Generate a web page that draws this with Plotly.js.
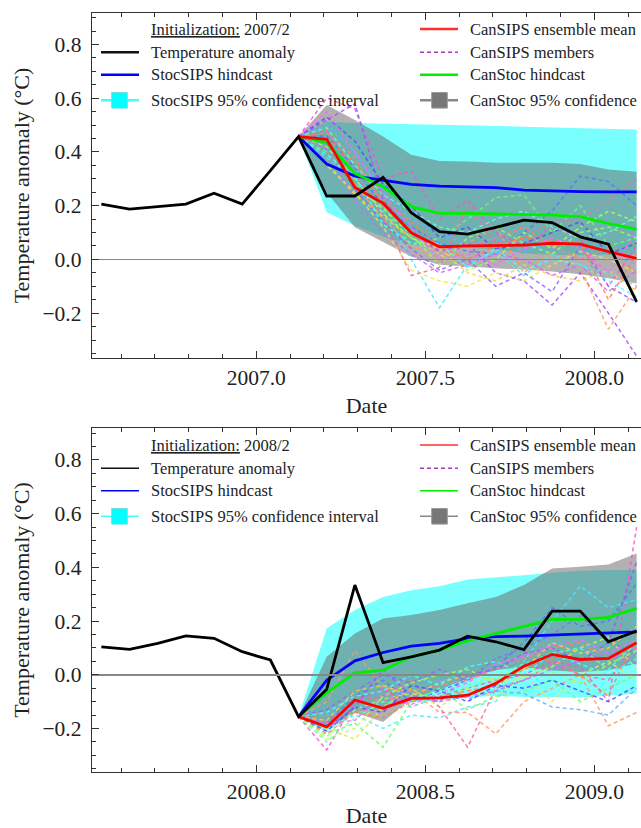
<!DOCTYPE html>
<html><head><meta charset="utf-8">
<script src="https://cdn.plot.ly/plotly-3.0.1.min.js"></script>
<style>html,body{margin:0;padding:0;background:#fff}#chart{width:641px;height:828px}</style>
</head><body><div id="chart"></div>
<script>
// ================= Panel 1: initialization 2007/2 =================
const p1Months = ["2006/07","2006/08","2006/09","2006/10","2006/11","2006/12","2007/01","2007/02",
  "2007/03","2007/04","2007/05","2007/06","2007/07","2007/08","2007/09","2007/10","2007/11","2007/12","2008/01","2008/02"];
const p1Temp = [0.206,0.187,0.196,0.206,0.246,0.206,0.330,0.457,
  0.236,0.236,0.305,0.174,0.103,0.094,0.119,0.146,0.137,0.084,0.057,-0.158];
const p1FcMonths = ["2007/02","2007/03","2007/04","2007/05","2007/06","2007/07","2007/08","2007/09","2007/10","2007/11","2007/12","2008/01","2008/02"];
const p1StocSIPS     = [0.457,0.355,0.310,0.295,0.279,0.273,0.271,0.267,0.258,0.254,0.252,0.251,0.251];
const p1StocSIPSHigh = [0.457,0.512,0.508,0.506,0.504,0.501,0.499,0.496,0.494,0.491,0.489,0.486,0.483];
const p1StocSIPSLow  = [0.457,0.175,0.125,0.084,0.054,0.045,0.043,0.038,0.022,0.017,0.015,0.016,0.019];
const p1CanSIPSMean  = [0.457,0.447,0.268,0.209,0.099,0.047,0.050,0.052,0.053,0.060,0.057,0.029,0.004];
const p1CanStoc      = [0.457,0.435,0.320,0.271,0.196,0.171,0.171,0.169,0.165,0.165,0.159,0.134,0.112];
const p1CanStocHigh  = [0.457,0.575,0.519,0.457,0.389,0.366,0.364,0.360,0.360,0.360,0.355,0.335,0.326];
const p1CanStocLow   = [0.457,0.250,0.120,0.066,0.010,-0.020,-0.027,-0.033,-0.038,-0.045,-0.055,-0.070,-0.090];
const p1Members = [
  [0.457,0.60,0.56,0.30,0.33,0.15,0.22,0.10,0.05,0.12,0.08,-0.10,0.05],
  [0.457,0.52,0.58,0.22,0.10,0.03,0.06,-0.05,-0.08,-0.17,-0.05,-0.20,-0.36],
  [0.457,0.46,0.34,0.20,0.12,0.06,0.03,0.02,0.10,0.18,0.31,0.29,0.20],
  [0.457,0.38,0.30,0.18,0.00,-0.18,-0.02,0.03,-0.06,0.02,-0.02,-0.05,-0.10],
  [0.457,0.40,0.28,0.20,0.05,0.08,0.15,0.23,0.24,0.10,0.20,0.05,0.08],
  [0.457,0.35,0.25,0.12,-0.04,-0.08,-0.10,-0.05,-0.08,-0.02,0.03,0.00,-0.05],
  [0.457,0.44,0.28,0.15,0.05,0.00,0.06,0.12,-0.05,0.03,-0.03,-0.26,-0.10],
  [0.457,0.48,0.32,0.16,-0.06,-0.03,0.20,0.06,0.08,0.14,0.15,0.22,0.30],
  [0.457,0.50,0.40,0.25,0.15,0.10,0.05,0.08,0.03,0.06,0.10,0.02,-0.02],
  [0.457,0.43,0.26,0.14,0.04,-0.04,0.00,-0.10,-0.05,-0.12,0.05,-0.10,-0.16],
  [0.457,0.42,0.30,0.17,0.08,0.02,-0.04,0.00,0.10,0.04,0.12,0.18,0.14],
  [0.457,0.45,0.36,0.22,0.14,0.05,0.00,0.05,0.08,0.07,0.06,-0.15,0.02],
  [0.457,0.47,0.38,0.20,0.10,0.02,0.05,0.08,0.12,0.05,0.00,0.04,-0.05],
  [0.457,0.41,0.22,0.10,0.02,-0.05,-0.02,0.02,0.00,-0.06,-0.02,-0.12,-0.04],
  [0.457,0.49,0.35,0.24,0.18,0.12,0.10,0.15,0.18,0.12,0.08,0.10,0.16],
  [0.457,0.36,0.24,0.16,0.08,0.04,-0.05,-0.08,-0.02,-0.06,-0.08,-0.04,-0.12],
  [0.457,0.53,0.44,0.28,0.20,0.08,0.12,0.04,0.06,0.10,0.14,0.02,0.06],
  [0.457,0.39,0.31,0.13,0.06,0.06,-0.03,0.04,-0.04,0.00,-0.02,-0.08,-0.14],
  [0.457,0.44,0.27,0.19,0.09,-0.02,0.08,0.12,0.06,0.02,0.10,0.12,0.08],
  [0.457,0.55,0.40,0.24,0.12,0.00,0.02,-0.02,0.04,0.08,0.04,-0.05,0.10]
];

// ================= Panel 2: initialization 2008/2 =================
const p2Months = ["2007/07","2007/08","2007/09","2007/10","2007/11","2007/12","2008/01","2008/02",
  "2008/03","2008/04","2008/05","2008/06","2008/07","2008/08","2008/09","2008/10","2008/11","2008/12","2009/01","2009/02"];
const p2Temp = [0.104,0.095,0.117,0.145,0.136,0.086,0.055,-0.156,
  -0.054,0.334,0.045,0.067,0.092,0.144,0.123,0.094,0.237,0.237,0.123,0.163];
const p2FcMonths = ["2008/02","2008/03","2008/04","2008/05","2008/06","2008/07","2008/08","2008/09","2008/10","2008/11","2008/12","2009/01","2009/02"];
const p2StocSIPS     = [-0.156,-0.020,0.052,0.083,0.107,0.117,0.135,0.142,0.144,0.148,0.151,0.156,0.160];
const p2StocSIPSHigh = [-0.156,0.173,0.241,0.290,0.315,0.330,0.355,0.362,0.371,0.380,0.387,0.390,0.390];
const p2StocSIPSLow  = [-0.156,-0.213,-0.137,-0.124,-0.101,-0.096,-0.085,-0.078,-0.083,-0.084,-0.085,-0.078,-0.070];
const p2CanSIPSMean  = [-0.156,-0.194,-0.094,-0.125,-0.088,-0.086,-0.076,-0.032,0.032,0.076,0.057,0.061,0.119];
const p2CanStoc      = [-0.156,-0.067,0.007,0.017,0.067,0.092,0.127,0.154,0.181,0.206,0.206,0.214,0.247];
const p2CanStocHigh  = [-0.156,0.067,0.154,0.210,0.223,0.241,0.266,0.290,0.334,0.396,0.402,0.411,0.452];
const p2CanStocLow   = [-0.156,-0.201,-0.140,-0.176,-0.089,-0.057,-0.012,0.018,0.028,0.016,0.010,0.017,0.042];
const p2Members = [
  [-0.156,-0.28,-0.10,-0.05,-0.12,-0.08,-0.05,-0.02,0.00,0.05,0.03,-0.10,0.55],
  [-0.156,-0.20,-0.12,0.02,-0.08,-0.10,0.00,0.02,0.08,0.10,0.05,0.12,0.42],
  [-0.156,-0.18,-0.08,-0.02,-0.10,-0.06,-0.02,0.03,0.12,0.25,0.18,0.20,0.34],
  [-0.156,-0.20,-0.15,-0.20,-0.15,-0.16,-0.12,-0.10,0.05,0.20,0.33,0.25,0.28],
  [-0.156,-0.22,-0.18,-0.27,-0.10,-0.05,-0.13,-0.08,-0.06,-0.02,-0.10,-0.05,0.00],
  [-0.156,-0.20,-0.24,-0.12,-0.05,-0.12,-0.05,-0.08,0.00,-0.10,0.00,0.05,-0.02],
  [-0.156,-0.10,0.09,-0.05,-0.06,-0.14,-0.14,-0.22,-0.10,-0.05,0.00,-0.19,-0.14],
  [-0.156,-0.18,-0.10,-0.08,-0.02,-0.12,-0.27,-0.05,-0.02,0.04,0.00,-0.02,0.10],
  [-0.156,-0.15,-0.12,-0.10,-0.05,-0.02,-0.09,-0.06,-0.07,-0.12,-0.13,-0.15,-0.05],
  [-0.156,-0.13,-0.06,0.00,-0.03,0.02,-0.02,0.06,0.10,0.15,0.22,0.12,0.08],
  [-0.156,-0.24,-0.20,-0.08,-0.03,0.00,0.02,-0.03,-0.01,0.03,0.10,0.14,0.02],
  [-0.156,-0.16,-0.14,-0.16,-0.10,-0.08,-0.06,-0.04,0.02,0.06,0.00,-0.08,0.15],
  [-0.156,-0.22,-0.14,-0.10,-0.06,-0.04,-0.02,0.02,0.06,0.10,0.12,0.06,0.10],
  [-0.156,-0.19,-0.10,-0.12,-0.08,-0.10,-0.08,-0.06,-0.02,0.02,0.05,0.08,0.04],
  [-0.156,-0.25,-0.16,-0.10,-0.12,-0.08,-0.04,0.00,0.04,0.08,0.10,0.02,0.12],
  [-0.156,-0.17,-0.06,-0.04,-0.08,-0.03,0.00,-0.02,0.02,0.12,0.08,0.10,0.18],
  [-0.156,-0.21,-0.12,-0.14,-0.04,-0.06,-0.10,-0.04,-0.05,-0.02,-0.06,-0.10,-0.04],
  [-0.156,-0.14,-0.08,-0.06,0.00,-0.04,0.03,0.05,0.00,0.08,0.04,0.00,0.06],
  [-0.156,-0.23,-0.13,-0.09,-0.07,-0.09,-0.05,-0.01,0.03,0.01,-0.03,0.04,0.09],
  [-0.156,-0.18,-0.17,-0.07,-0.11,-0.07,-0.03,0.04,0.07,0.11,0.13,0.08,0.13]
];

const memberColors = ["#ff4dd2","#a64dff","#4d79ff","#4de6ff","#66ff66","#e6e64d",
                      "#ff9966","#ff6699","#66b3ff","#8c66ff","#b3ff4d","#ff7f50",
                      "#ff8080","#cc66ff","#66ffcc","#ffcc4d","#4d4dff","#4dffff","#99ff66","#ff66ff"];
const initLabels = ["2007/2","2008/2"];

// ================= helpers =================
const FONT = "Liberation Serif, Times New Roman, serif";
const W = 641, H = 828;
function dec(s){ const [y,m] = s.split("/").map(Number); return y + (m - 0.5)/12; }
const px = v => v / W;
const py = v => 1 - v / H;

const traces = [];
function addPanel(sfx, months, temp, fcMonths, ss, ssH, ssL, csm, cs, csH, csL, members){
  const xa = "x" + sfx, ya = "y" + sfx;
  const xf = fcMonths.map(dec);
  const base = {xaxis: xa, yaxis: ya, showlegend: false, hoverinfo: "skip"};
  traces.push(Object.assign({x: xf, y: ssL, mode: "lines", line: {width: 0}}, base));
  traces.push(Object.assign({x: xf, y: ssH, mode: "lines", line: {width: 0}, fill: "tonexty", fillcolor: "rgba(0,255,255,0.52)"}, base));
  traces.push(Object.assign({x: xf, y: csL, mode: "lines", line: {width: 0}}, base));
  traces.push(Object.assign({x: xf, y: csH, mode: "lines", line: {width: 0}, fill: "tonexty", fillcolor: "rgba(100,100,100,0.5)"}, base));
  members.forEach((m, i) => {
    traces.push(Object.assign({x: xf, y: m, mode: "lines", opacity: 0.85,
      line: {color: memberColors[i % memberColors.length], width: 1.5, dash: "4px,3px"}}, base));
  });
  traces.push(Object.assign({x: xf, y: ss, mode: "lines", line: {color: "#0000ff", width: 2.8}}, base));
  traces.push(Object.assign({x: xf, y: cs, mode: "lines", line: {color: "#00ee00", width: 2.8}}, base));
  traces.push(Object.assign({x: xf, y: csm, mode: "lines", line: {color: "#ff0000", width: 2.8}}, base));
  traces.push(Object.assign({x: months.map(dec), y: temp, mode: "lines", line: {color: "#000000", width: 2.8}}, base));
}
addPanel("", p1Months, p1Temp, p1FcMonths, p1StocSIPS, p1StocSIPSHigh, p1StocSIPSLow, p1CanSIPSMean, p1CanStoc, p1CanStocHigh, p1CanStocLow, p1Members);
addPanel("2", p2Months, p2Temp, p2FcMonths, p2StocSIPS, p2StocSIPSHigh, p2StocSIPSLow, p2CanSIPSMean, p2CanStoc, p2CanStocHigh, p2CanStocLow, p2Members);

function xAxis(range, anchor){
  return {domain: [px(92), 1], range: range, anchor: anchor, tick0: 0, dtick: 0.5, tickformat: ".1f",
    ticks: "inside", ticklen: 7, tickwidth: 1, tickcolor: "#333",
    minor: {dtick: 0.1, ticks: "inside", ticklen: 4, tickcolor: "#333"},
    showline: true, linecolor: "#333", linewidth: 1.3, mirror: "ticks",
    showgrid: false, zeroline: false,
    tickfont: {family: FONT, size: 21.5, color: "#222"},
    title: {text: "Date", font: {family: FONT, size: 22, color: "#222"}, standoff: 8}};
}
function yAxis(domain, range, anchor){
  return {domain: domain, range: range, anchor: anchor, tick0: 0, dtick: 0.2, tickformat: ".1f",
    ticks: "inside", ticklen: 7, tickwidth: 1, tickcolor: "#333",
    minor: {dtick: 0.05, ticks: "inside", ticklen: 4, tickcolor: "#333"},
    showline: true, linecolor: "#333", linewidth: 1.3,
    showgrid: false, zeroline: true, zerolinecolor: "#888", zerolinewidth: 1.5, zerolinelayer: "above traces",
    ticklabelstandoff: 5,
    tickfont: {family: FONT, size: 21.5, color: "#222"},
    title: {text: "Temperature anomaly (°C)", font: {family: FONT, size: 22, color: "#222"}, standoff: 6}};
}

// legend built from shapes + annotations
const shapes = [], annotations = [];
function legend(off, init, lw){
  const rows = [29, 52.3, 74.8, 100.3].map(v => v + off);
  const txt = (x, y, t) => annotations.push({xref: "paper", yref: "paper", x: px(x), y: py(y), xanchor: "left", yanchor: "middle",
    text: t, showarrow: false, font: {family: FONT, size: 16.5, color: "#222"}});
  const ln = (x0, x1, y, c, dash, w) => shapes.push({type: "line", xref: "paper", yref: "paper",
    x0: px(x0), x1: px(x1), y0: py(y), y1: py(y), line: {color: c, width: w, dash: dash || "solid"}});
  const sq = (cx, cy, fill, border) => shapes.push({type: "rect", xref: "paper", yref: "paper",
    x0: px(cx - 7.8), x1: px(cx + 7.8), y0: py(cy + 7.8), y1: py(cy - 7.8), fillcolor: fill, line: {color: border, width: 1}});
  txt(148.5, rows[0], "<u>Initialization:</u> " + init);
  ln(101, 139, rows[1], "#111", null, lw); txt(148.5, rows[1], "Temperature anomaly");
  ln(101, 139, rows[2], "#0000ff", null, lw); txt(148.5, rows[2], "StocSIPS hindcast");
  ln(101, 139, rows[3], "#40ffff", null, lw); sq(119.5, rows[3], "#00ffff", "#70e0e0");
  txt(148.5, rows[3], "StocSIPS 95% confidence interval");
  ln(420, 458, rows[0], "#ff3030", null, lw); txt(468, rows[0], "CanSIPS ensemble mean");
  ln(420, 458, rows[1], "#a040c0", "4px,3px", 1.6); txt(468, rows[1], "CanSIPS members");
  ln(420, 458, rows[2], "#00ee00", null, lw); txt(468, rows[2], "CanStoc hindcast");
  ln(420, 458, rows[3], "#888888", null, lw); sq(439.5, rows[3], "#777777", "#999999");
  txt(468, rows[3], "CanStoc 95% confidence");
}
legend(0, initLabels[0], 2.5);
legend(416, initLabels[1], 1.6);

const layout = {
  width: W, height: H, margin: {l: 0, r: 0, t: 0, b: 0},
  paper_bgcolor: "#fff", plot_bgcolor: "#fff", showlegend: false,
  font: {family: FONT, color: "#222"},
  xaxis: xAxis([2006.514, 2008.138], "y"),
  yaxis: yAxis([py(358), py(13)], [-0.367, 0.917], "x"),
  xaxis2: xAxis([2007.514, 2009.138], "y2"),
  yaxis2: yAxis([py(772), py(428)], [-0.362, 0.919], "x2"),
  shapes: shapes, annotations: annotations
};
Plotly.newPlot("chart", traces, layout, {displayModeBar: false, staticPlot: true});
</script></body></html>
